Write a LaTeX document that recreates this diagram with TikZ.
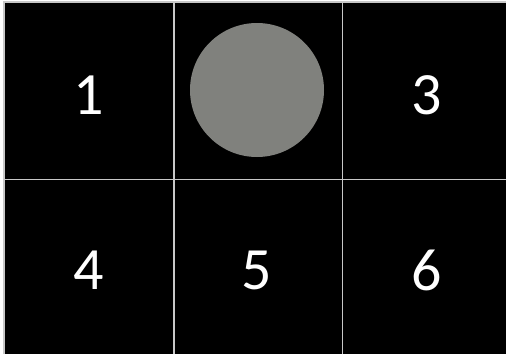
\documentclass[tikz,border=0pt]{standalone}
\usepackage{fontspec}
\setmainfont{Carlito}
\definecolor{gridline}{HTML}{C8C8C8}
\definecolor{disc}{HTML}{80817D}
\begin{document}
\begin{tikzpicture}[x=1pt,y=-1pt,
  num/.style={text=white,font=\fontsize{60}{60}\selectfont,inner sep=0pt,anchor=center},
  gl/.style={draw=gridline,line width=1.5pt}]
\useasboundingbox (0,0) rectangle (506,354);
\fill[white] (0,0) rectangle (506,354);
\fill[black] (4,2) rectangle (506,354);
\draw[gl] (4,354) -- (4,2) -- (506,2);
\draw[gl] (174,2) -- (174,354);
\draw[gl] (342.5,2) -- (342.5,354);
\draw[gl] (4,179.5) -- (506,179.5);
\node[circle,fill=disc,minimum size=134pt,inner sep=0pt] (c) at (257,90) {};
\node[num] (n1) at (89,95) {1};
\node[num] (n3) at (427,95) {3};
\node[num] (n4) at (89,270) {4};
\node[num] (n5) at (257,270) {5};
\node[num] (n6) at (427,270) {6};
\end{tikzpicture}
\end{document}
